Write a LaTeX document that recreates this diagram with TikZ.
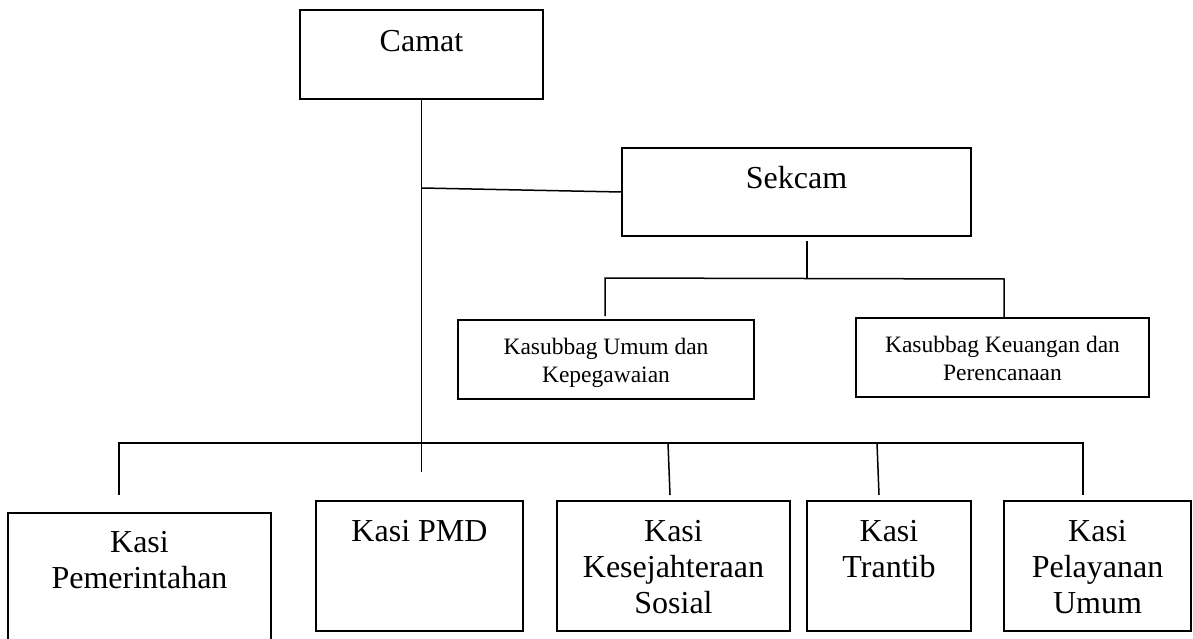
\documentclass[tikz,border=0pt]{standalone}
\usepackage{fontspec}
\setmainfont{Liberation Serif}
\usepackage{tikz}
\usetikzlibrary{calc}

\begin{document}
\begin{tikzpicture}[x=1pt, y=-1pt, line width=1.5pt,
  box/.style={draw, rectangle, inner sep=0pt},
  bigtext/.style={anchor=north, inner sep=0pt, align=center, font=\fontsize{32}{36}\selectfont},
  smalltext/.style={anchor=north, inner sep=0pt, align=center, font=\fontsize{23.5}{28}\selectfont}]

\useasboundingbox (0,0) rectangle (1193,639);

% First, define the boxes (empty) at their centres
\node[box, minimum width=243, minimum height=89] (camat) at (421.5,54.5) {};
\node[box, minimum width=349, minimum height=88] (sekcam) at (796.5,192) {};
\node[box, minimum width=296, minimum height=79] (kum) at (606,359.5) {};
\node[box, minimum width=293, minimum height=79] (kku) at (1002.5,357.5) {};
\node[box, minimum width=263, minimum height=147] (pem) at (139.5,586.5) {};
\node[box, minimum width=207, minimum height=130] (pmd) at (419.5,566) {};
\node[box, minimum width=233, minimum height=130] (kes) at (673.5,566) {};
\node[box, minimum width=164, minimum height=130] (tra) at (889,566) {};
\node[box, minimum width=187, minimum height=130] (pel) at (1097.5,566) {};

% Now the texts, hanging from the top of each box
\node[bigtext] (camat-t) at (421.5,30) {Camat};
\node[bigtext] (sekcam-t) at (796.5,166) {Sekcam};
\node[smalltext] (kum-t) at (606,337) {Kasubbag Umum dan\\Kepegawaian};
\node[smalltext] (kku-t) at (1002.5,335) {Kasubbag Keuangan dan\\Perencanaan};
\node[bigtext] (pem-t) at (139.5,531) {Kasi\\Pemerintahan};
\node[bigtext] (pmd-t) at (419.5,520) {Kasi PMD};
\node[bigtext] (kes-t) at (673.5,520) {Kasi\\Kesejahteraan\\Sosial};
\node[bigtext] (tra-t) at (889,520) {Kasi\\Trantib};
\node[bigtext] (pel-t) at (1097.5,520) {Kasi\\Pelayanan\\Umum};

% Camat line down, with the branch to Sekcam
\coordinate (cbot) at (421.5,472);
\coordinate (cs) at (421.5,188);
\draw (camat.south) -- (cbot);
\draw (cs) -- (sekcam.west);

% Sekcam to the two Kasubbag
\coordinate (s1) at (807,241);
\coordinate (s2) at (807,278);
\coordinate (kl) at (605,278);
\coordinate (kl2) at (605,316);
\coordinate (kr) at (1004,279);
\draw (s1) -- (s2);
\draw (kl2) -- (kl) -- (kr) -- (kr |- kku.north);

% Bottom bar and the drops to the Kasi boxes
\foreach \n/\a/\b in {pem/119/119, kes/668/670, tra/877/879, pel/1083/1083} {
  \coordinate (\n-up) at (\a,443);
  \coordinate (\n-dn) at (\b,495);
}
\draw (pem-dn) -- (pem-up) -- (pel-up) -- (pel-dn);
\draw (kes-up) -- (kes-dn);
\draw (tra-up) -- (tra-dn);
\end{tikzpicture}
\end{document}
